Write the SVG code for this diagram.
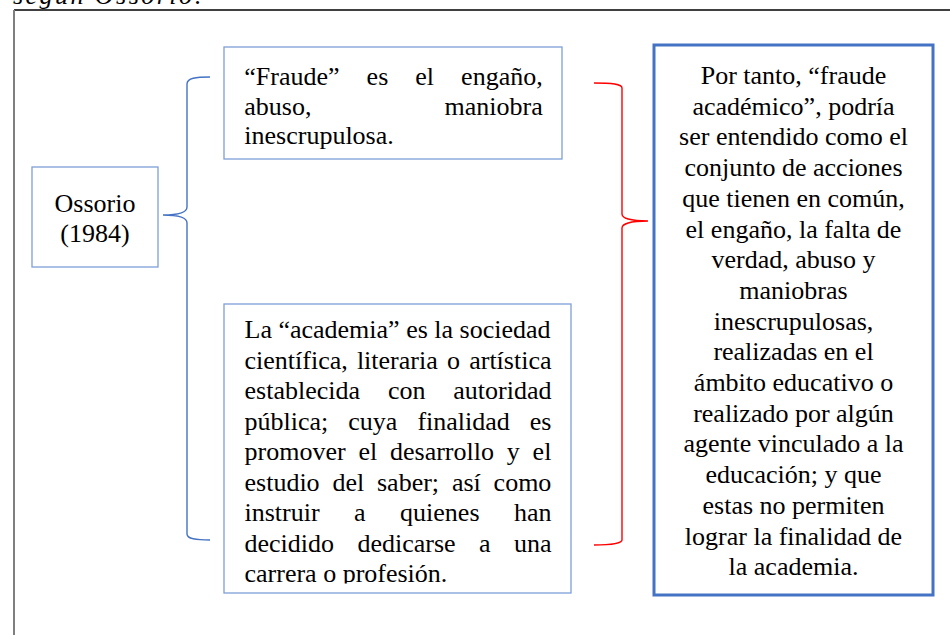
<svg xmlns="http://www.w3.org/2000/svg" width="950" height="635" viewBox="0 0 950 635">
<style>
  .t { font-family: "Liberation Serif", "Times New Roman", serif; font-size: 26px; fill: #000; }
  .box { fill: #fff; stroke: #7f9ed8; stroke-width: 1.3; }
  .bigbox { fill: #fff; stroke: #4472c4; stroke-width: 3; }
  .brace { fill: none; stroke-width: 1.4; }
</style>
<defs>
  <clipPath id="acadClip"><rect x="224" y="304" width="347" height="279.5"/></clipPath>
</defs>
<rect x="0" y="0" width="950" height="635" fill="#fff"/>
<text class="t" x="13" y="4" font-style="italic" textLength="190">según Ossorio:</text>
<line x1="14" y1="10" x2="950" y2="10" stroke="#000" stroke-width="1.5"/>
<line x1="14" y1="10" x2="14" y2="635" stroke="#7f7f7f" stroke-width="2"/>

<g id="connectors">
  <path class="brace" stroke="#4472c4" d="M210,77 C196,77 187,78 187,84 L187,207 C187,212 180,215 163,215 C180,215 187,218 187,223 L187,534 C187,539 196,540 210,540"/>
  <path class="brace" stroke="#ff0000" d="M594,83 C612,83 622,84 622,88 L622,214 C622,218 630,221 648,221 C630,221 622,224 622,228 L622,540 C622,543 612,545 594,545"/>
</g>

<g id="ossorio">
  <rect class="box" x="32" y="167" width="126" height="100"/>
  <text class="t" x="95" y="212" text-anchor="middle">Ossorio</text>
  <text class="t" x="95" y="242" text-anchor="middle">(1984)</text>
</g>

<g id="fraude">
  <rect class="box" x="224" y="47" width="338" height="112"/>
  <text class="t" y="85"><tspan x="244.3">“Fraude”</tspan><tspan x="366.6">es</tspan><tspan x="415.3">el</tspan><tspan x="461.1">engaño,</tspan></text>
  <text class="t" x="244.3" y="114.5">abuso,</text>
  <text class="t" x="542.7" y="114.5" text-anchor="end">maniobra</text>
  <text class="t" x="244.3" y="144">inescrupulosa.</text>
</g>

<g id="academia">
  <rect class="box" x="224" y="304" width="347" height="289"/>
  <g clip-path="url(#acadClip)">
    <text class="t" x="244.5" y="338">La “academia” es la sociedad</text>
    <text class="t" y="368.5"><tspan x="244.5">científica,</tspan><tspan x="356.9">literaria</tspan><tspan x="447">o</tspan><tspan x="469.2">artística</tspan></text>
    <text class="t" y="399"><tspan x="244.5">establecida</tspan><tspan x="387.9">con</tspan><tspan x="453.3">autoridad</tspan></text>
    <text class="t" y="429.5"><tspan x="244.5">pública;</tspan><tspan x="348.3">cuya</tspan><tspan x="417.4">finalidad</tspan><tspan x="529.8">es</tspan></text>
    <text class="t" y="460"><tspan x="244.5">promover</tspan><tspan x="358.4">el</tspan><tspan x="390">desarrollo</tspan><tspan x="506.8">y</tspan><tspan x="532.6">el</tspan></text>
    <text class="t" y="490.5"><tspan x="244.5">estudio</tspan><tspan x="332.4">del</tspan><tspan x="377">saber;</tspan><tspan x="451.9">así</tspan><tspan x="493.6">como</tspan></text>
    <text class="t" y="521"><tspan x="244.5">instruir</tspan><tspan x="354.1">a</tspan><tspan x="400.1">quienes</tspan><tspan x="514">han</tspan></text>
    <text class="t" y="551.5"><tspan x="244.5">decidido</tspan><tspan x="357.4">dedicarse</tspan><tspan x="479">a</tspan><tspan x="514">una</tspan></text>
    <text class="t" x="244.5" y="582">carrera o profesión.</text>
  </g>
</g>

<g id="conclusion">
  <rect class="bigbox" x="654" y="45" width="279" height="550"/>
  <text class="t" x="793.5" y="84" text-anchor="middle">Por tanto, “fraude</text>
  <text class="t" x="793.5" y="114.7" text-anchor="middle">académico”, podría</text>
  <text class="t" x="793.5" y="145.4" text-anchor="middle">ser entendido como el</text>
  <text class="t" x="793.5" y="176.1" text-anchor="middle">conjunto de acciones</text>
  <text class="t" x="793.5" y="206.8" text-anchor="middle">que tienen en común,</text>
  <text class="t" x="793.5" y="237.5" text-anchor="middle">el engaño, la falta de</text>
  <text class="t" x="793.5" y="268.2" text-anchor="middle">verdad, abuso y</text>
  <text class="t" x="793.5" y="298.9" text-anchor="middle">maniobras</text>
  <text class="t" x="793.5" y="329.6" text-anchor="middle">inescrupulosas,</text>
  <text class="t" x="793.5" y="360.3" text-anchor="middle">realizadas en el</text>
  <text class="t" x="793.5" y="391" text-anchor="middle">ámbito educativo o</text>
  <text class="t" x="793.5" y="421.7" text-anchor="middle">realizado por algún</text>
  <text class="t" x="793.5" y="452.4" text-anchor="middle">agente vinculado a la</text>
  <text class="t" x="793.5" y="483.1" text-anchor="middle">educación; y que</text>
  <text class="t" x="793.5" y="513.8" text-anchor="middle">estas no permiten</text>
  <text class="t" x="793.5" y="544.5" text-anchor="middle">lograr la finalidad de</text>
  <text class="t" x="793.5" y="575.2" text-anchor="middle">la academia.</text>
</g>
</svg>
